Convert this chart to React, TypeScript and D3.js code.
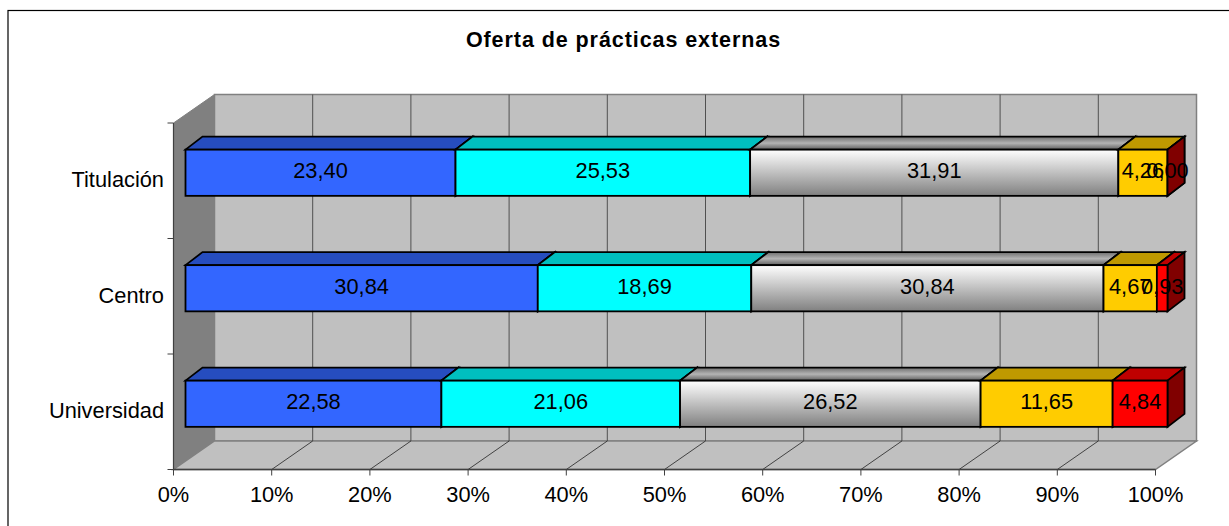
import React from "react";
import * as d3 from "d3";

const categories = ["Universidad", "Centro", "Titulación"];
const seriesKeys = ["a", "b", "c", "d", "e"];
const seriesA = [22.58, 30.84, 23.4];
const seriesB = [21.06, 18.69, 25.53];
const seriesC = [26.52, 30.84, 31.91];
const seriesD = [11.65, 4.67, 4.26];
const seriesE = [4.84, 0.93, 0.0];
const seriesValues = [seriesA, seriesB, seriesC, seriesD, seriesE];
const chartTitle = "Oferta de prácticas externas";

const frontFill = ["#3366FF", "#00FFFF", "url(#greyFront)", "#FFCC00", "#FF0000"];
const topFill = ["#264DBF", "#00BFBF", "url(#greyTop)", "#BF9900", "#BF0000"];
const sideFill = ["#1A3380", "#008080", "#666666", "#806600", "#800000"];

const W = 1229;
const H = 526;
const FONT = "'Liberation Sans', Arial, sans-serif";
const floorY = 469.5;
const wallTopFrontY = 123;
const x0 = 173.5;
const x1 = 1155.5;
const dx = 41;
const dy = 28.5;
const barDx = 12;
const barDy = 8;
const depthX = 17;
const depthY = 13;
const labelSize = 21.8;

const rows = categories.map((c, i) => {
  const r: Record<string, any> = { category: c };
  seriesKeys.forEach((k, s) => (r[k] = seriesValues[s][i]));
  return r;
});

export default function App() {
  const x = d3.scaleLinear().domain([0, 1]).range([x0, x1]);
  const y = d3
    .scaleBand<string>()
    .domain(categories)
    .range([floorY, wallTopFrontY])
    .paddingInner(0.6)
    .paddingOuter(0.3);
  const stacked = d3.stack<any>().keys(seriesKeys).offset(d3.stackOffsetExpand)(rows);
  const ticks = x.ticks(10);
  const fmt = d3.format(".0%");
  const val = (v: number) => v.toFixed(2).replace(".", ",");
  const step = y.step();
  const yTicks = d3.range(categories.length + 1).map((i) => floorY - i * step);

  return (
    <svg
      width={W}
      height={H}
      style={{ position: "absolute", left: 0, top: 0, background: "#fff" }}
      fontFamily={FONT}
    >
      <defs>
        <linearGradient id="greyFront" x1="0" y1="0" x2="0" y2="1">
          <stop offset="0" stopColor="#ffffff" />
          <stop offset="1" stopColor="#808080" />
        </linearGradient>
        <linearGradient id="greyTop" x1="0" y1="0" x2="0" y2="1">
          <stop offset="0" stopColor="#6e6e6e" />
          <stop offset="0.5" stopColor="#b4b4b4" />
          <stop offset="1" stopColor="#5e5e5e" />
        </linearGradient>
      </defs>

      <rect x={8} y={10.5} width={W + 20} height={H + 20} fill="#fff" stroke="#000" strokeWidth={1.2} />

      <text
        x={623.5}
        y={46.5}
        textAnchor="middle"
        fontSize={21.5}
        fontWeight="bold"
        letterSpacing={0.93}
        fill="#000"
      >
        {chartTitle}
      </text>

      {/* back wall */}
      <rect
        x={x0 + dx}
        y={wallTopFrontY - dy}
        width={x1 - x0}
        height={floorY - wallTopFrontY}
        fill="#C0C0C0"
        stroke="#808080"
        strokeWidth={1.5}
      />
      {/* side wall */}
      <polygon
        points={`${x0},${wallTopFrontY} ${x0 + dx},${wallTopFrontY - dy} ${x0 + dx},${floorY - dy} ${x0},${floorY}`}
        fill="#808080"
        stroke="#808080"
      />
      {/* floor */}
      <polygon
        points={`${x0},${floorY} ${x0 + dx},${floorY - dy} ${x1 + dx},${floorY - dy} ${x1},${floorY}`}
        fill="#C0C0C0"
        stroke="#808080"
        strokeWidth={1.5}
      />

      {/* gridlines */}
      {ticks.slice(1, -1).map((t) => (
        <g key={t} fill="none">
          <line x1={x(t) + dx} x2={x(t) + dx} y1={wallTopFrontY - dy} y2={floorY - dy} stroke="#505050" strokeWidth={1} />
          <line x1={x(t)} x2={x(t) + dx} y1={floorY} y2={floorY - dy} stroke="#222" strokeWidth={0.8} />
        </g>
      ))}

      {/* axes */}
      <line x1={x0} x2={x1} y1={floorY} y2={floorY} stroke="#404040" strokeWidth={1.4} />
      <line x1={x0} x2={x0} y1={wallTopFrontY} y2={floorY} stroke="#404040" strokeWidth={1.2} />
      {ticks.map((t) => (
        <g key={t}>
          <line x1={x(t)} x2={x(t)} y1={floorY} y2={floorY + 6} stroke="#404040" />
          <text x={x(t)} y={502} textAnchor="middle" fontSize={labelSize} fill="#000">
            {fmt(t)}
          </text>
        </g>
      ))}
      {yTicks.map((t) => (
        <line key={t} x1={x0 - 6} x2={x0} y1={t} y2={t} stroke="#404040" />
      ))}
      {categories.map((c) => (
        <text key={c} x={164} y={(y(c) as number) + y.bandwidth() / 2 + 6.5} textAnchor="end" fontSize={labelSize} fill="#000">
          {c}
        </text>
      ))}

      {/* bars */}
      {categories.map((c, ci) => (
        <g key={c} stroke="#000" strokeWidth={1.8} strokeLinejoin="miter">
          {stacked.map((s, si) => {
            const a = x(s[ci][0]) + barDx;
            const b = x(s[ci][1]) + barDx;
            const t = (y(c) as number) - barDy;
            const h = y.bandwidth();
            return (
              <g key={si}>
                <polygon
                  points={`${a},${t} ${a + depthX},${t - depthY} ${b + depthX},${t - depthY} ${b},${t}`}
                  fill={topFill[si]}
                />
                <polygon
                  points={`${b},${t} ${b + depthX},${t - depthY} ${b + depthX},${t + h - depthY} ${b},${t + h}`}
                  fill={sideFill[si]}
                />
                <rect x={a} y={t} width={b - a} height={h} fill={frontFill[si]} />
              </g>
            );
          })}
        </g>
      ))}
      {/* value labels */}
      {categories.map((c, ci) =>
        stacked.map((s, si) => {
          const a = x(s[ci][0]) + barDx;
          const b = x(s[ci][1]) + barDx;
          const t = (y(c) as number) - barDy;
          return (
            <text
              key={c + si}
              x={(a + b) / 2}
              y={t + y.bandwidth() / 2 + 5.5}
              textAnchor="middle"
              fontSize={labelSize}
              fill="#000"
            >
              {val(seriesValues[si][ci])}
            </text>
          );
        })
      )}
    </svg>
  );
}
